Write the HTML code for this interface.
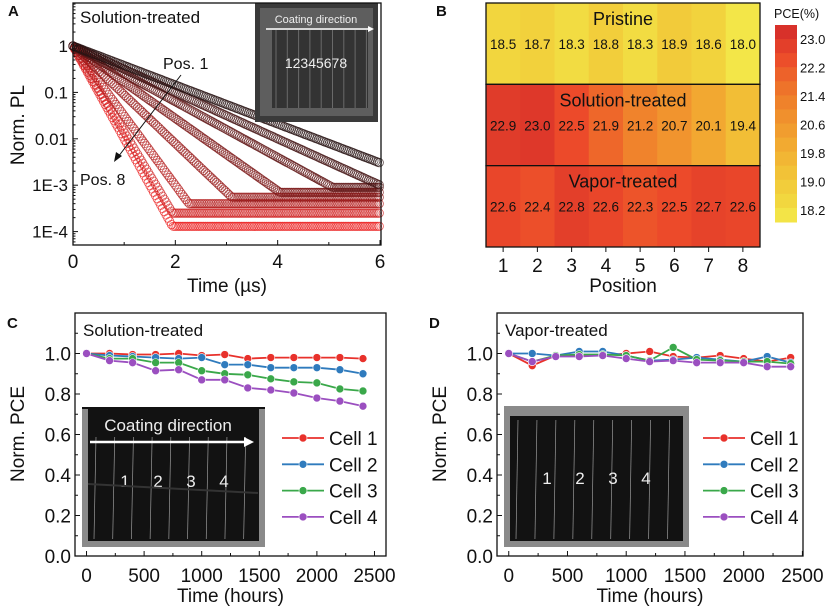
<!DOCTYPE html>
<html><head><meta charset="utf-8"><style>
body{margin:0;background:#fff}
svg{display:block;font-family:"Liberation Sans",Arial,sans-serif}
</style></head><body>
<svg id="fig" width="830" height="606" viewBox="0 0 830 606" xmlns="http://www.w3.org/2000/svg"></svg>
<script>
// ---------- Panel A data ----------
const aPositions=["Pos. 1","Pos. 2","Pos. 3","Pos. 4","Pos. 5","Pos. 6","Pos. 7","Pos. 8"];
const aDecayRates=[0.42,0.5,0.6,0.78,1.05,1.5,1.85,2.0]; // decades per µs
const aFloors=[0,0,9e-4,7e-4,5.5e-4,4e-4,2.5e-4,1.3e-4];
const aXTicks=[0,2,4,6];
const aYTicks=[1,0.1,0.01,1e-3,1e-4];
const aYTickLabels=["1","0.1","0.01","1E-3","1E-4"];
// ---------- Panel B data ----------
const bRows=["Pristine","Solution-treated","Vapor-treated"];
const bPositions=[1,2,3,4,5,6,7,8];
const bPristine=[18.5,18.7,18.3,18.8,18.3,18.9,18.6,18.0];
const bSolution=[22.9,23.0,22.5,21.9,21.2,20.7,20.1,19.4];
const bVapor=[22.6,22.4,22.8,22.6,22.3,22.5,22.7,22.6];
const bColorTicks=[23.0,22.2,21.4,20.6,19.8,19.0,18.2];
// ---------- Panel C/D data ----------
const hours=[0,200,400,600,800,1000,1200,1400,1600,1800,2000,2200,2400];
const cellNames=["Cell 1","Cell 2","Cell 3","Cell 4"];
const cCell1=[1.0,1.0,0.995,0.995,1.0,0.99,0.995,0.975,0.98,0.98,0.98,0.98,0.975];
const cCell2=[1.0,0.99,0.985,0.98,0.975,0.98,0.945,0.945,0.93,0.93,0.93,0.92,0.9];
const cCell3=[1.0,0.975,0.975,0.955,0.955,0.915,0.9,0.895,0.875,0.86,0.855,0.825,0.815];
const cCell4=[1.0,0.965,0.955,0.915,0.92,0.87,0.87,0.83,0.82,0.805,0.78,0.765,0.74];
const dCell1=[1.0,0.94,0.99,0.99,0.99,1.0,1.01,0.985,0.98,0.99,0.975,0.96,0.98];
const dCell2=[1.0,1.0,0.99,1.01,1.01,0.99,0.965,0.97,0.98,0.97,0.96,0.985,0.955];
const dCell3=[1.0,0.96,0.99,0.995,0.995,0.99,0.965,1.03,0.97,0.965,0.96,0.96,0.95];
const dCell4=[1.0,0.96,0.985,0.985,0.99,0.975,0.96,0.965,0.955,0.955,0.955,0.935,0.935];
const pceXTicks=[0,500,1000,1500,2000,2500];
const pceYTicks=[0,0.2,0.4,0.6,0.8,1.0];
const cellColors=["#e8312b","#2f7bbd","#3aa84a","#9b4fc0"];

const svg=document.getElementById('fig');
const NS="http://www.w3.org/2000/svg";
function el(tag,attrs,parent,text){const e=document.createElementNS(NS,tag);for(const k in attrs)e.setAttribute(k,attrs[k]);if(text!==undefined)e.textContent=text;(parent||svg).appendChild(e);return e;}
function grp(name,parent){const g=el('g',{},parent);


return g;}
function txt(parent,name,x,y,s,size,anchor,extra){const t=el('text',Object.assign({x:x,y:y,'font-size':size,'text-anchor':anchor||'middle',fill:'#111'},extra||{}),parent,s);


return t;}

// ================= Panel A =================
(function(){
const g=grp('panel-a');
const L=73,R=381,T=3,B=245;
const xs=t=>L+(t-0)/(6.0)*(R-L-1);
const ys=v=>46-Math.log10(v)*46.4;
txt(g,'panel-a-label',8,16,'A',15,'start',{'font-weight':'bold'});
for(let i=aPositions.length-1;i>=0;i--){
  const s=grp('pl-series-'+(i+1),g);
  const f=i/7;
  const col=`rgb(${Math.round(40+f*195)},${Math.round(20+f*10)},${Math.round(20+f*10)})`;
  for(let t=0;t<=6.0001;t+=0.035){
    let v=Math.pow(10,-aDecayRates[i]*t);
    if(aFloors[i]>0&&v<aFloors[i])v=aFloors[i];
    el('circle',{cx:xs(t).toFixed(1),cy:ys(v).toFixed(1),r:4.2,fill:'none',stroke:col,'stroke-width':0.8,'stroke-opacity':0.75},s);
  }
}
const ins=grp('coating-photo-inset',g);
el('rect',{x:255,y:3,width:123,height:119,fill:'#3a3a3a'},ins);
el('rect',{x:260,y:8,width:113,height:108,fill:'#5e5e5e'},ins);
el('rect',{x:272,y:30,width:96,height:78,fill:'#333'},ins);
for(let k=0;k<9;k++)el('line',{x1:276+k*11.3,y1:30,x2:276+k*11.3,y2:108,stroke:'#6a6a6a','stroke-width':1},ins);
txt(ins,'inset-coating-direction',316,23,'Coating direction',11,'middle',{fill:'#eee'});
el('line',{x1:266,y1:29,x2:368,y2:29,stroke:'#fff','stroke-width':1.5},ins);
el('path',{d:'M368,26 L374,29 L368,32 Z',fill:'#fff'},ins);
txt(ins,'inset-position-numbers',316,68,'12345678',14,'middle',{fill:'#eee'});
el('rect',{x:L,y:T,width:R-L,height:B-T,fill:'none',stroke:'#111','stroke-width':1.3},g);
aXTicks.forEach(v=>{el('line',{x1:xs(v),y1:B,x2:xs(v),y2:B-5,stroke:'#111'},g);txt(g,'x-tick-label',xs(v),268,String(v),19);});
[1,3,5].forEach(v=>el('line',{x1:xs(v),y1:B,x2:xs(v),y2:B-3,stroke:'#111'},g));
aYTicks.forEach((v,k)=>{el('line',{x1:L,y1:ys(v),x2:L+5,y2:ys(v),stroke:'#111'},g);txt(g,'y-tick-label',68,ys(v)+6,aYTickLabels[k],17,'end');});
for(let d=1;d>=-4;d--)for(let m=2;m<10;m++){const y=ys(m*Math.pow(10,d-1));if(y>T&&y<B)el('line',{x1:L,y1:y,x2:L+2.5,y2:y,stroke:'#111'},g);}
txt(g,'x-axis-title',227,292,'Time (µs)',19);
txt(g,'y-axis-title',0,0,'Norm. PL',19,'middle',{transform:'translate(24,125) rotate(-90)'});
txt(g,'title-solution-treated',80,23,'Solution-treated',17,'start');
txt(g,'annotation-pos-1',163,69,'Pos. 1',16,'start');
txt(g,'annotation-pos-8',80,185,'Pos. 8',16,'start');
el('line',{x1:181,y1:75,x2:118,y2:157,stroke:'#111','stroke-width':1},g);
el('path',{d:'M114,162 L116,152 L122,156 Z',fill:'#111'},g);
})();

// ================= Panel B =================
(function(){
const g=grp('panel-b');
txt(g,'panel-b-label',436,16,'B',15,'start',{'font-weight':'bold'});
const L=486,R=760,T=3,B=247;
const cw=(R-L)/8,rh=(B-T)/3;
const stops=[[17.8,[243,236,76]],[18.5,[242,214,62]],[19.4,[242,190,54]],[20.2,[242,165,48]],[21.0,[240,138,44]],[21.8,[238,108,42]],[22.5,[236,74,42]],[23.4,[210,42,42]]];
function col(v){for(let i=0;i<stops.length-1;i++){const[a,ca]=stops[i],[b,cb]=stops[i+1];if(v<=b||i==stops.length-2){const f=Math.max(0,Math.min(1,(v-a)/(b-a)));return`rgb(${ca.map((c,k)=>Math.round(c+(cb[k]-c)*f)).join(',')})`;}}}
const rows=[bPristine,bSolution,bVapor];
rows.forEach((vals,r)=>{
  const rg=grp('heatmap-row-'+bRows[r].toLowerCase(),g);
  vals.forEach((v,c)=>{
    const rc=el('rect',{x:L+c*cw,y:T+r*rh,width:cw+0.5,height:rh+0.5,fill:col(v)},rg);
    
    
    txt(rg,'cell-value',L+(c+0.5)*cw,T+r*rh+46,v.toFixed(1),13.5);
  });
  txt(rg,'row-title',(L+R)/2,T+r*rh+22,bRows[r],18);
  el('rect',{x:L,y:T+r*rh,width:R-L,height:rh,fill:'none',stroke:'#111','stroke-width':1.3},rg);
});
bPositions.forEach((p,c)=>{const x=L+(c+0.5)*cw;el('line',{x1:x,y1:B,x2:x,y2:B+5,stroke:'#111'},g);txt(g,'x-tick-label',x,272,String(p),19);});
txt(g,'x-axis-title',623,292,'Position',19);
const cb=grp('colorbar',g);
const cT=25,cB=222,vmax=23.4,vmin=17.86;
const cy=v=>cT+(vmax-v)/(vmax-vmin)*(cB-cT);
const n=14;for(let i=0;i<n;i++){const v1=vmax-(vmax-vmin)*i/n;el('rect',{x:775,y:cy(v1),width:22,height:(cB-cT)/n+0.5,fill:col(v1-(vmax-vmin)/n/2)},cb);}
bColorTicks.forEach(v=>txt(cb,'colorbar-tick-label',800,cy(v)+5,v.toFixed(1),13,'start'));
txt(cb,'colorbar-title',774,18,'PCE(%)',12.5,'start');
})();

// ================= Panels C & D =================
function pcePanel(name,letter,L,R,x0,x1,title,series,inset,legX){
const g=grp(name);
const T=313,B=556;
const xs=v=>L+(v-x0)/(x1-x0)*(R-L);
const ys=v=>B-v/1.2*(B-T);
txt(g,name+'-label',L-68,328,letter,15,'start',{'font-weight':'bold'});
const ins=grp('device-photo-inset',g);
el('rect',{x:inset[0],y:inset[1],width:inset[2],height:inset[3],fill:'#8a8a8a'},ins);
el('rect',{x:inset[0]+6,y:inset[1]+(letter=='C'?0:10),width:inset[2]-12,height:inset[3]-(letter=='C'?6:16),fill:'#121212'},ins);
for(let k=0;k<9;k++){const x=inset[0]+14+k*(inset[2]-24)/8.5;el('line',{x1:x,y1:inset[1]+(letter=='C'?28:14),x2:x-2,y2:inset[1]+inset[3]-8,stroke:'#9a9a9a','stroke-width':0.7},ins);}
['1','2','3','4'].forEach((s,k)=>txt(ins,'cell-number-'+s,inset[0]+43+k*33,inset[1]+78,s,17,'middle',{fill:'#eee'}));
if(letter=='C'){
  el('line',{x1:inset[0],y1:inset[1]-1,x2:inset[0]+183,y2:inset[1]-1,stroke:'#111','stroke-width':2},ins);
  txt(ins,'inset-coating-direction',inset[0]+86,inset[1]+22,'Coating direction',17,'middle',{fill:'#eee'});
  el('line',{x1:inset[0]+8,y1:inset[1]+33,x2:inset[0]+162,y2:inset[1]+33,stroke:'#fff','stroke-width':2.5},ins);
  el('path',{d:`M${inset[0]+162},${inset[1]+28} L${inset[0]+172},${inset[1]+33} L${inset[0]+162},${inset[1]+38} Z`,fill:'#fff'},ins);
  el('line',{x1:inset[0]+6,y1:inset[1]+75,x2:inset[0]+176,y2:inset[1]+84,stroke:'#333','stroke-width':2},ins);
}
series.forEach((vals,i)=>{
  const s=grp('series-'+cellNames[i].replace(' ','-').toLowerCase(),g);
  el('polyline',{points:vals.map((v,k)=>xs(hours[k]).toFixed(1)+','+ys(v).toFixed(1)).join(' '),fill:'none',stroke:cellColors[i],'stroke-width':1.8},s);
  vals.forEach((v,k)=>{const c=el('circle',{cx:xs(hours[k]),cy:ys(v),r:4,fill:cellColors[i],stroke:'#fff','stroke-width':0.6},s);
  
  });
  const lg=grp('legend-entry',g);
  const ly=438+i*26.3;
  el('line',{x1:legX,y1:ly,x2:legX+42,y2:ly,stroke:cellColors[i],'stroke-width':1.8},lg);
  el('circle',{cx:legX+21,cy:ly,r:4,fill:cellColors[i],stroke:'#fff','stroke-width':0.6},lg);
  txt(lg,'legend-label',legX+47,ly+7,cellNames[i],19,'start');
});
el('rect',{x:L,y:T,width:R-L,height:B-T,fill:'none',stroke:'#111','stroke-width':1.3},g);
pceXTicks.forEach(v=>{el('line',{x1:xs(v),y1:B,x2:xs(v),y2:B-5,stroke:'#111'},g);txt(g,'x-tick-label',xs(v),582,String(v),19);});
[250,750,1250,1750,2250].forEach(v=>el('line',{x1:xs(v),y1:B,x2:xs(v),y2:B-3,stroke:'#111'},g));
pceYTicks.forEach(v=>{el('line',{x1:L,y1:ys(v),x2:L+5,y2:ys(v),stroke:'#111'},g);txt(g,'y-tick-label',L-4,ys(v)+7,v.toFixed(1),19,'end');});
[0.1,0.3,0.5,0.7,0.9,1.1].forEach(v=>el('line',{x1:L,y1:ys(v),x2:L+3,y2:ys(v),stroke:'#111'},g));
txt(g,'x-axis-title',(L+R)/2,602,'Time (hours)',19);
txt(g,'y-axis-title',0,0,'Norm. PCE',19,'middle',{transform:`translate(${L-51},434) rotate(-90)`});
txt(g,'panel-title',L+8,336,title,17,'start');
}
pcePanel('panel-c','C',75,386,-100,2600,'Solution-treated',[cCell1,cCell2,cCell3,cCell4],[82,409,183,138],282);
pcePanel('panel-d','D',497,803,-100,2505,'Vapor-treated',[dCell1,dCell2,dCell3,dCell4],[504,406,185,141],703);
</script>
</body></html>
